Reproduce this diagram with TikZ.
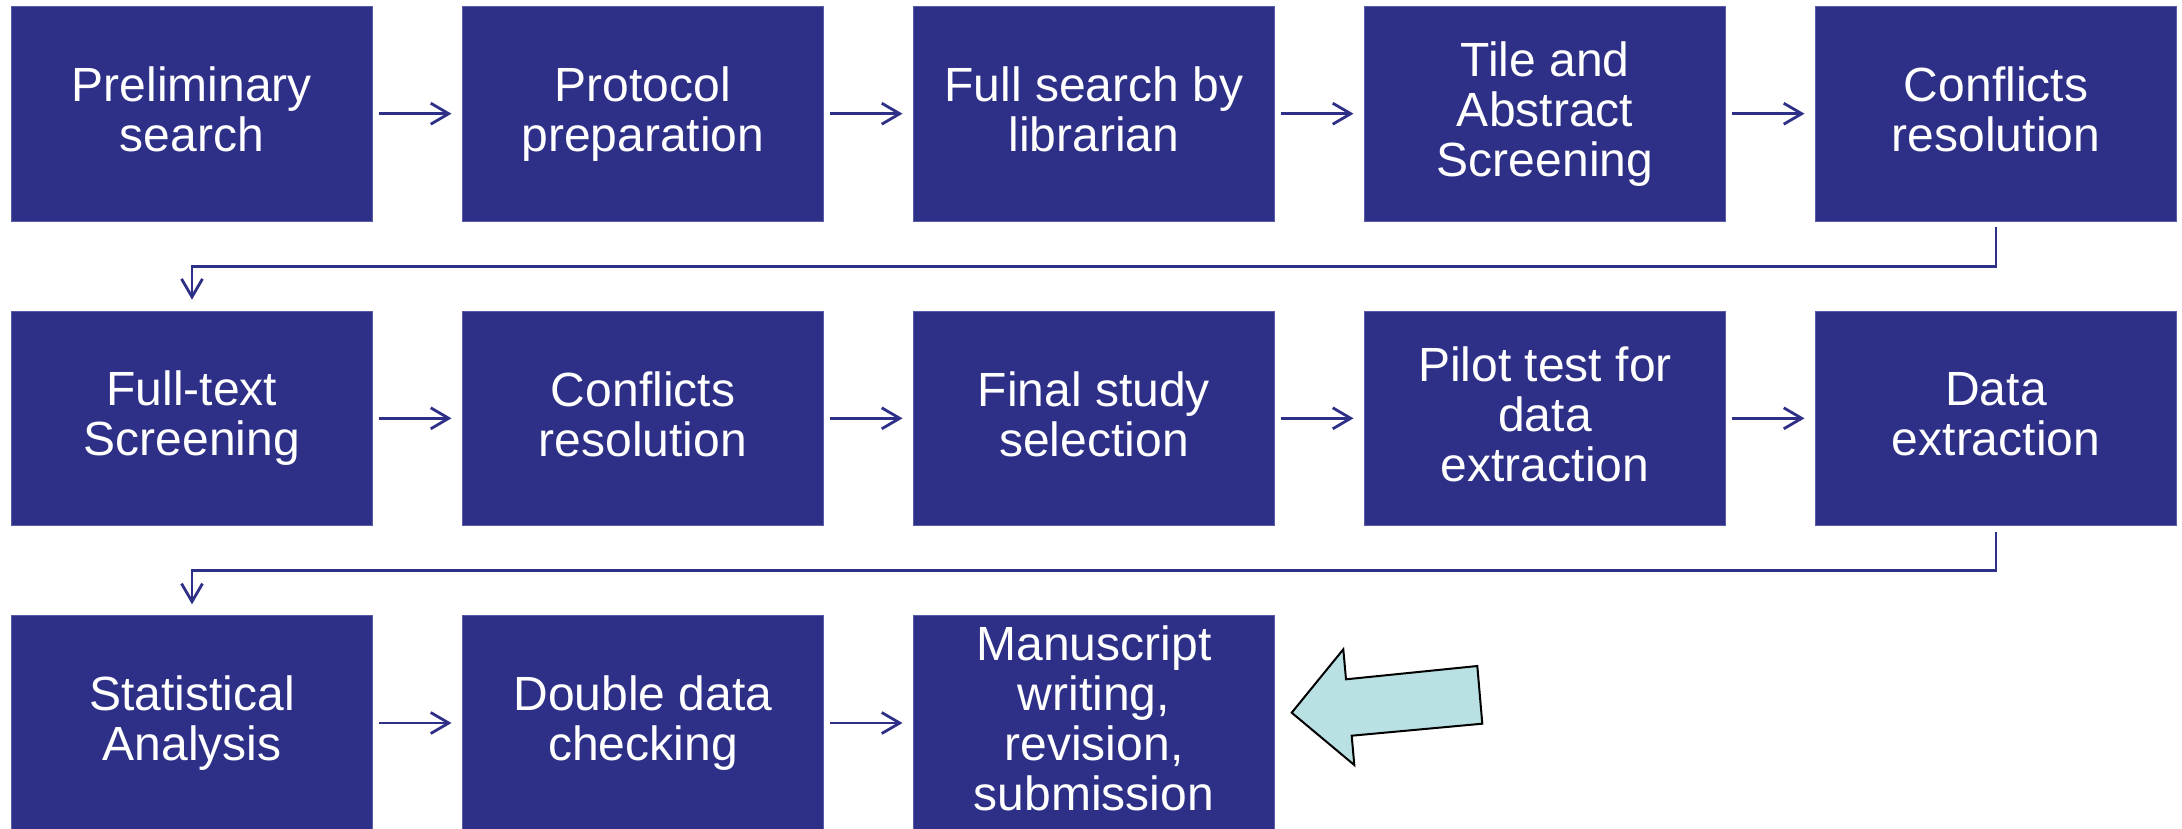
\documentclass[tikz,border=0pt]{standalone}
\usepackage{fontspec}
\setmainfont{Liberation Sans}
\usetikzlibrary{arrows.meta}
\definecolor{boxblue}{RGB}{46,48,136}
\definecolor{boxedge}{RGB}{90,92,170}
\definecolor{lightcyan}{RGB}{185,224,227}
\newcommand{\linestrut}{\rule[-9pt]{0pt}{48pt}}
\tikzset{
  stepbox/.style={rectangle, fill=boxblue, draw=boxedge, line width=0.8pt,
    minimum width=361pt, minimum height=214.5pt, inner sep=0pt,
    text=white, align=center,
    font=\fontsize{48pt}{50pt}\selectfont,
    execute at begin node=\linestrut, execute at end node=\linestrut},
  conn/.style={draw=boxblue, line width=2.8pt,
    -{Straight Barb[length=18pt,width=21pt]}},
  flow/.style={conn, shorten <=5.6pt, shorten >=10.6pt},
  turn/.style={conn, shorten <=5.7pt, shorten >=11pt},
  bigarrow/.style={fill=lightcyan, draw=black, line width=2pt, line join=miter}
}
\begin{document}
\begin{tikzpicture}[x=1pt,y=-1pt]
\useasboundingbox (0,0) rectangle (2182,828);
% row 1
\node[stepbox] (a1) at (192,113.7)  {Preliminary\\search};
\node[stepbox] (a2) at (643,113.7)  {Protocol\\preparation};
\node[stepbox] (a3) at (1094,113.7) {Full search by\\librarian};
\node[stepbox] (a4) at (1545,113.7) {Tile and\\Abstract\\Screening};
\node[stepbox] (a5) at (1996,113.7) {Conflicts\\resolution};
% row 2
\node[stepbox] (b1) at (192,418.3)  {Full-text\\Screening};
\node[stepbox] (b2) at (643,418.3)  {Conflicts\\resolution};
\node[stepbox] (b3) at (1094,418.3) {Final study\\selection};
\node[stepbox] (b4) at (1545,418.3) {Pilot test for\\data\\extraction};
\node[stepbox] (b5) at (1996,418.3) {Data\\extraction};
% row 3
\node[stepbox] (c1) at (192,723)  {Statistical\\Analysis};
\node[stepbox] (c2) at (643,723)  {Double data\\checking};
\node[stepbox] (c3) at (1094,723) {Manuscript\\writing,\\revision,\\submission};
% connectors
\draw[flow] (a1) -- (a2);
\draw[flow] (a2) -- (a3);
\draw[flow] (a3) -- (a4);
\draw[flow] (a4) -- (a5);
\draw[turn] (a5.south) -- ++(0,44.8) -| (b1.north);
\draw[flow] (b1) -- (b2);
\draw[flow] (b2) -- (b3);
\draw[flow] (b3) -- (b4);
\draw[flow] (b4) -- (b5);
\draw[turn] (b5.south) -- ++(0,44.5) -| (c1.north);
\draw[flow] (c1) -- (c2);
\draw[flow] (c2) -- (c3);
% pointing arrow
\draw[bigarrow] (1291.7,712.7) -- (1343.3,649.3) -- (1346,679.3) -- (1477.3,666)
  -- (1482.3,723.7) -- (1351.7,735.7) -- (1354.3,765) -- cycle;
\end{tikzpicture}
\end{document}
